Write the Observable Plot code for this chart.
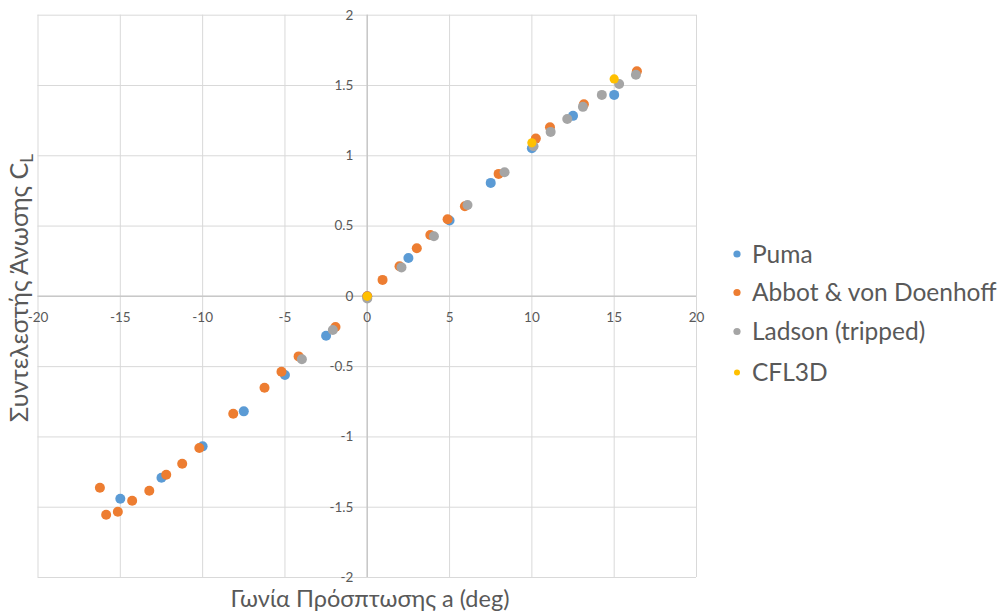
<!DOCTYPE html>
<html>
<head>
<meta charset="utf-8">
<script src="https://cdn.jsdelivr.net/npm/d3@7"></script>
<script src="https://cdn.jsdelivr.net/npm/@observablehq/plot@0.6"></script>
<style>
  html, body { margin: 0; padding: 0; background: #fff; }
  #chart { position: relative; width: 1000px; height: 612px; }
</style>
</head>
<body>
<div id="chart"></div>
<script>
// ---- data ----
const seriesNames = ["Puma", "Abbot & von Doenhoff", "Ladson (tripped)", "CFL3D"];
const seriesColors = ["#5B9BD5", "#ED7D31", "#A5A5A5", "#FFC000"];

const pumaA = [-15, -12.5, -10, -7.5, -5, -2.5, 0, 2.5, 5, 7.5, 10, 12.5, 15];
const pumaCL = [-1.44, -1.29, -1.067, -0.818, -0.56, -0.28, 0, 0.273, 0.539, 0.807, 1.053, 1.284, 1.433];

const abbotA = [-16.24, -15.86, -15.15, -14.28, -13.24, -12.21, -11.24, -10.2, -8.14, -6.24, -5.21, -4.17, -1.93, 0, 0.93, 1.96, 3.01, 3.83, 4.88, 5.93, 7.98, 10.24, 11.1, 13.16, 16.38];
const abbotCL = [-1.362, -1.554, -1.532, -1.454, -1.383, -1.269, -1.191, -1.079, -0.835, -0.65, -0.536, -0.427, -0.218, 0, 0.117, 0.214, 0.342, 0.437, 0.548, 0.641, 0.871, 1.122, 1.203, 1.367, 1.601];

const ladsonA = [-3.97, -2.09, 0, 2.08, 4.05, 6.09, 8.34, 10.1, 11.14, 12.15, 13.1, 14.25, 15.3, 16.32];
const ladsonCL = [-0.448, -0.239, -0.015, 0.206, 0.427, 0.65, 0.883, 1.068, 1.17, 1.262, 1.348, 1.433, 1.511, 1.576];

const cflA = [0, 10, 15];
const cflCL = [0, 1.092, 1.547];

const xTicks = [-20, -15, -10, -5, 0, 5, 10, 15, 20];
const yTicks = [-2, -1.5, -1, -0.5, 0, 0.5, 1, 1.5, 2];

const xTitle = "Γωνία Πρόσπτωσης a (deg)";
const yTitleMain = "Συντελεστής Άνωσης C";
const yTitleSub = "L";

// ---- build table ----
const toRows = (xs, ys, s) => xs.map((x, i) => ({a: x, cl: ys[i], s}));
const mainRows = [
  ...toRows(pumaA, pumaCL, seriesNames[0]),
  ...toRows(abbotA, abbotCL, seriesNames[1]),
  ...toRows(ladsonA, ladsonCL, seriesNames[2])
];
const cflRows = toRows(cflA, cflCL, seriesNames[3]);

const FONT = "Lato, 'Open Sans', sans-serif";
const TXT = "#595959";

const plot = Plot.plot({
  width: 1000,
  height: 612,
  marginLeft: 37.5,
  marginRight: 304,
  marginTop: 14.7,
  marginBottom: 35,
  style: {fontFamily: FONT, background: "#fff", overflow: "visible"},
  x: {domain: [-20, 20], axis: null},
  y: {domain: [-2, 2], axis: null},
  color: {domain: seriesNames, range: seriesColors},
  marks: [
    Plot.ruleX(xTicks, {stroke: "#d9d9d9", strokeWidth: 1}),
    Plot.ruleY(yTicks, {stroke: "#d9d9d9", strokeWidth: 1}),
    Plot.ruleX([0], {stroke: "#c8c8c8", strokeWidth: 1.5}),
    Plot.ruleY([0], {stroke: "#c8c8c8", strokeWidth: 1.5}),
    Plot.text(xTicks, {x: d => d, y: () => 0, dy: 21, text: d => String(d), fill: TXT, fontSize: 13.5, textAnchor: "middle"}),
    Plot.text(yTicks, {x: () => 0, y: d => d, dx: -14, text: d => String(d), fill: TXT, fontSize: 13.5, textAnchor: "end"}),
    Plot.dot(mainRows, {x: "a", y: "cl", fill: "s", r: 5, stroke: "none"}),
    Plot.dot(cflRows, {x: "a", y: "cl", fill: "s", r: 4.6, stroke: "none"})
  ]
});

const svg = d3.select(plot);

// axis titles
svg.append("text")
  .attr("x", 370).attr("y", 607)
  .attr("text-anchor", "middle")
  .attr("font-family", FONT).attr("font-size", 23.5).attr("fill", TXT)
  .text(xTitle);

const yt = svg.append("text")
  .attr("transform", "translate(28,288) rotate(-90)")
  .attr("text-anchor", "middle")
  .attr("font-family", FONT).attr("font-size", 25).attr("fill", TXT);
yt.append("tspan").text(yTitleMain);
yt.append("tspan").attr("font-size", 17).attr("dy", 5).text(yTitleSub);

// legend
const lg = svg.append("g").attr("font-family", FONT).attr("text-anchor", "start");
const legY = [254, 292.5, 331.5, 372.5];
seriesNames.forEach((n, i) => {
  lg.append("circle").attr("cx", 737).attr("cy", legY[i]).attr("r", i === 3 ? 3 : 3.6).attr("fill", seriesColors[i]);
  lg.append("text").attr("x", 752).attr("y", legY[i]).attr("dy", "0.35em")
    .attr("text-anchor", "start")
    .attr("font-size", 24.5).attr("fill", TXT).text(n);
});

document.getElementById("chart").appendChild(plot);
</script>
</body>
</html>
